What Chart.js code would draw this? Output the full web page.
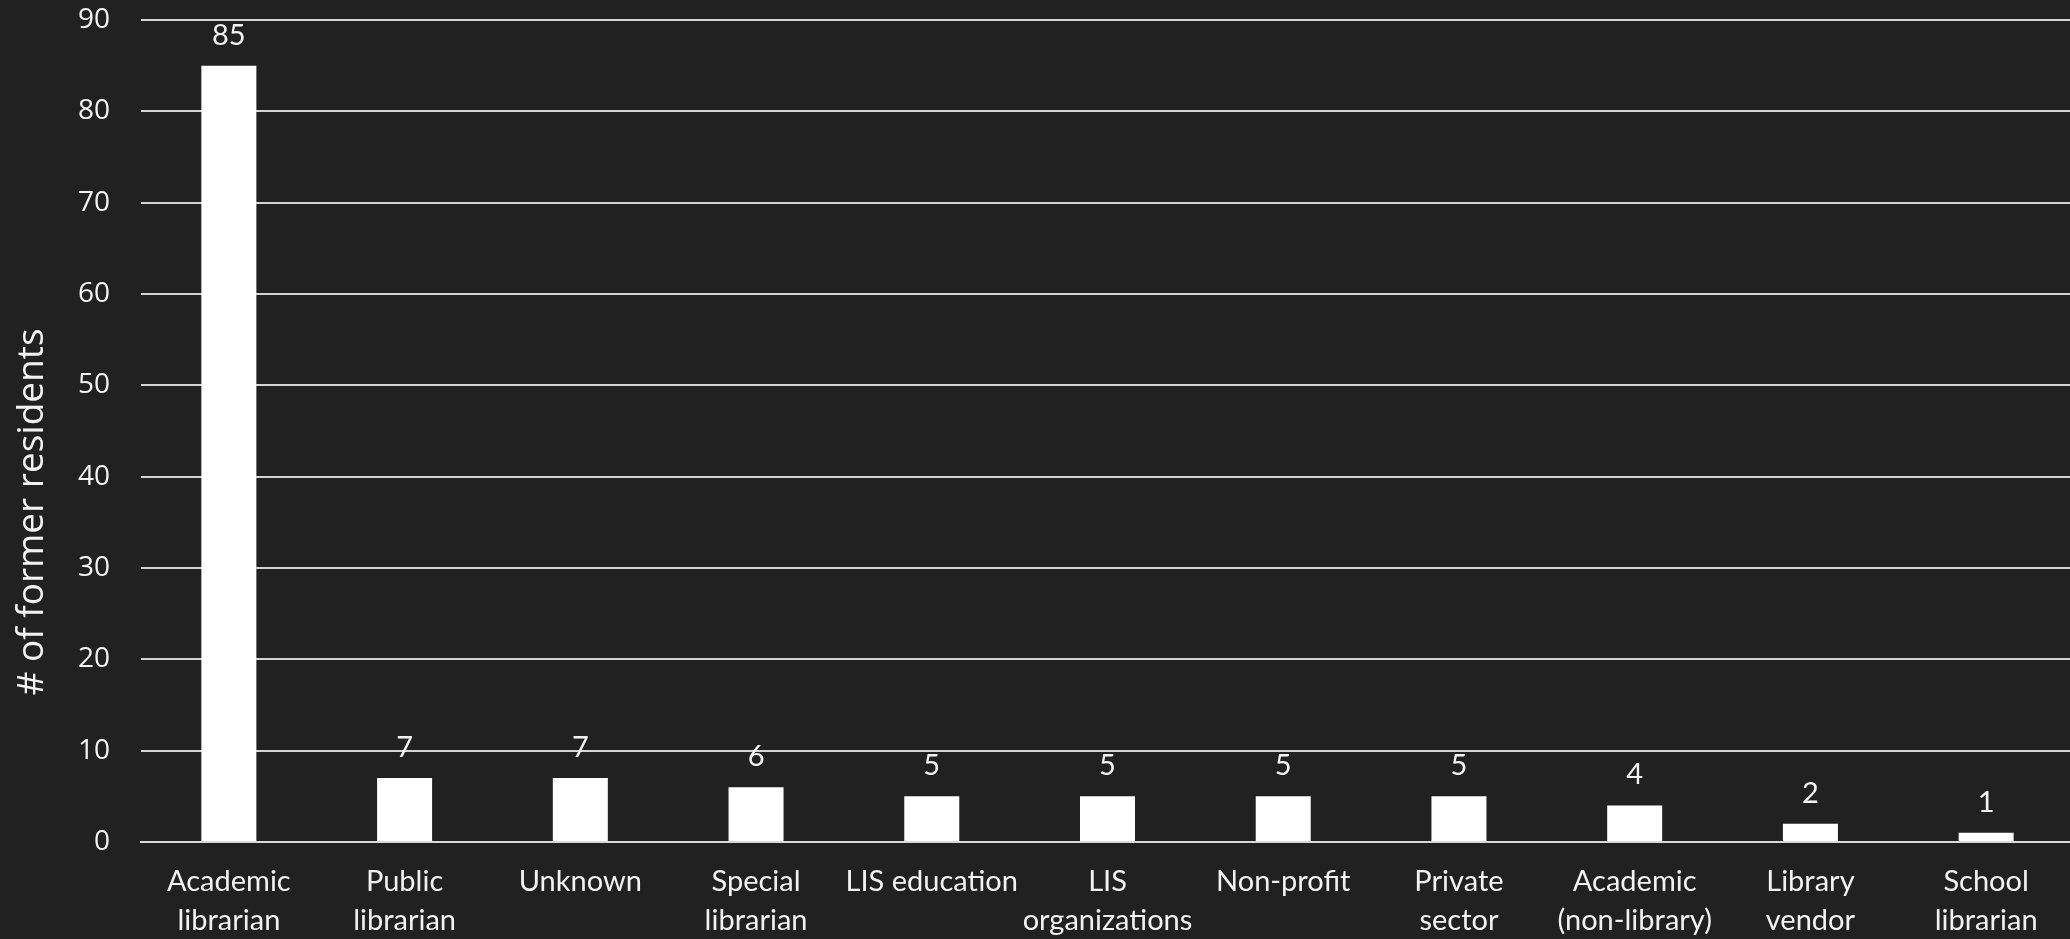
<!DOCTYPE html>
<html>
<head>
<meta charset="utf-8">
<script src="https://cdn.jsdelivr.net/npm/chart.js@4/dist/chart.umd.min.js"></script>
<style>
    html, body { margin: 0; padding: 0; background: #212121; overflow: hidden; }
    #wrap { width: 2070px; height: 939px; overflow: hidden; }
</style>
</head>
<body>
<div id="wrap"><canvas id="chart" width="2074" height="939"></canvas></div>
<script>
const categories = [
    ['Academic', 'librarian'],
    ['Public', 'librarian'],
    'Unknown',
    ['Special', 'librarian'],
    'LIS education',
    ['LIS', 'organizations'],
    'Non-profit',
    ['Private', 'sector'],
    ['Academic', '(non-library)'],
    ['Library', 'vendor'],
    ['School', 'librarian']
];
const residents = [85, 7, 7, 6, 5, 5, 5, 5, 4, 2, 1];
const yMin = 0;
const yMax = 90;
const yStep = 10;
const axisTitle = '# of former residents';

// numbers above each bar
const valueLabels = {
    id: 'valueLabels',
    afterDatasetsDraw(chart) {
        const ctx = chart.ctx;
        const meta = chart.getDatasetMeta(0);
        ctx.save();
        ctx.font = '29px Lato';
        ctx.fillStyle = '#f2f2f2';
        ctx.textAlign = 'center';
        ctx.textBaseline = 'alphabetic';
        meta.data.forEach((bar, i) => {
            ctx.fillText(String(residents[i]), bar.x, bar.y - 21);
        });
        ctx.restore();
    }
};

// rotated y axis title
const sideTitle = {
    id: 'sideTitle',
    afterDraw(chart) {
        const ctx = chart.ctx;
        ctx.save();
        ctx.translate(43, 512);
        ctx.rotate(-Math.PI / 2);
        ctx.font = '400 37px "Open Sans"';
        ctx.fillStyle = '#f2f2f2';
        ctx.textAlign = 'center';
        ctx.textBaseline = 'alphabetic';
        ctx.fillText(axisTitle, 0, 0);
        ctx.restore();
    }
};

new Chart(document.getElementById('chart'), {
    type: 'bar',
    data: {
        labels: categories,
        datasets: [{
            data: residents,
            backgroundColor: '#ffffff',
            borderWidth: 0,
            categoryPercentage: 1,
            barPercentage: 0.313
        }]
    },
    options: {
        responsive: false,
        animation: false,
        layout: { padding: { top: 20, right: 0, left: 0, bottom: 0 } },
        plugins: {
            legend: { display: false },
            tooltip: { enabled: false }
        },
        scales: {
            x: {
                grid: { display: false, drawTicks: false },
                border: { color: '#d9d9d9', width: 2 },
                ticks: {
                    color: '#f2f2f2',
                    font: { family: 'Lato', size: 29, lineHeight: 1.32 },
                    padding: 21,
                    maxRotation: 0,
                    autoSkip: false
                },
                afterFit(scale) {
                    scale.height = 97;
                    scale.paddingLeft = 0;
                    scale.paddingRight = 0;
                }
            },
            y: {
                min: yMin,
                max: yMax,
                grid: { color: '#d4d4d4', lineWidth: 2, drawTicks: false },
                border: { display: false },
                ticks: {
                    stepSize: yStep,
                    color: '#f2f2f2',
                    font: { family: 'Open Sans', size: 28 },
                    padding: 31
                },
                afterFit(scale) {
                    scale.width = 141;
                    scale.paddingTop = 0;
                    scale.paddingBottom = 0;
                }
            }
        }
    },
    plugins: [valueLabels, sideTitle]
});
</script>
</body>
</html>
